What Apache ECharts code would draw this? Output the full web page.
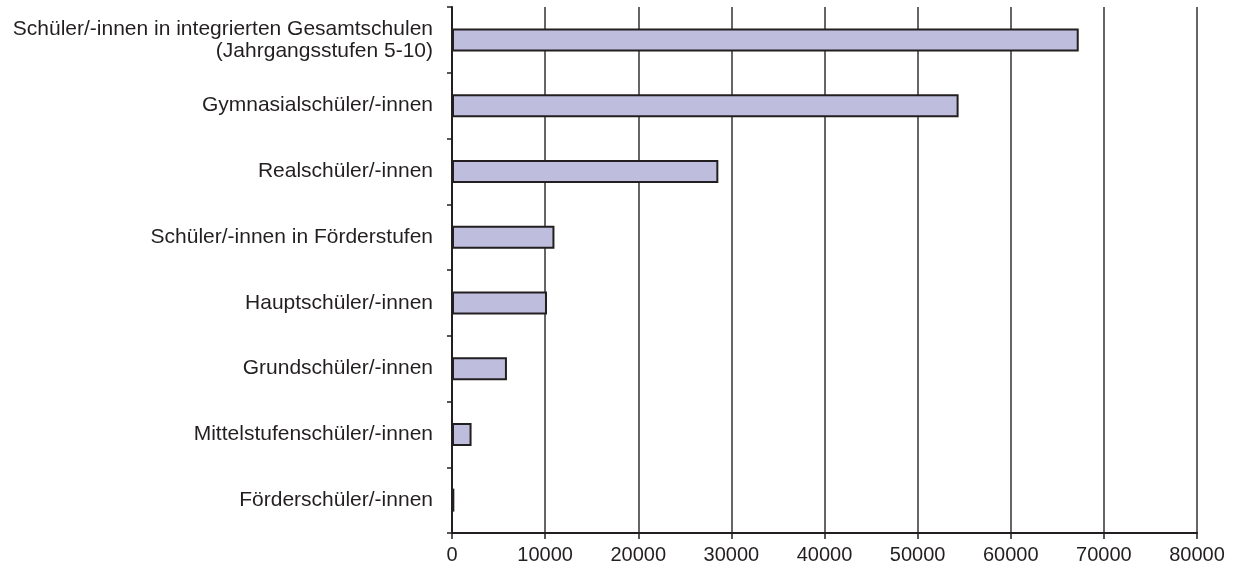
<!DOCTYPE html>
<html>
<head>
<meta charset="utf-8">
<script src="https://cdn.jsdelivr.net/npm/echarts@6/dist/echarts.min.js"></script>
<style>
html,body{margin:0;padding:0;background:#fff;}
#chart{width:1235px;height:574px;}
</style>
</head>
<body>
<div id="chart"></div>
<script>
const categories = [
  "Schüler/-innen in integrierten Gesamtschulen\n(Jahrgangsstufen 5-10)",
  "Gymnasialschüler/-innen",
  "Realschüler/-innen",
  "Schüler/-innen in Förderstufen",
  "Hauptschüler/-innen",
  "Grundschüler/-innen",
  "Mittelstufenschüler/-innen",
  "Förderschüler/-innen"
];
const values = [67300, 54400, 28600, 11000, 10200, 5900, 2100, 250];
const xTicks = [0, 80000, 10000];

const chart = echarts.init(document.getElementById('chart'), null, {renderer: 'canvas'});
chart.setOption({
  animation: false,
  backgroundColor: '#ffffff',
  grid: {left: 452, right: 38, top: 7, bottom: 41, containLabel: false},
  xAxis: {
    type: 'value',
    min: xTicks[0], max: xTicks[1], interval: xTicks[2],
    axisLine: {show: true, lineStyle: {color: '#231f20', width: 2}},
    axisTick: {show: true, length: 6, lineStyle: {color: '#231f20', width: 1.5}},
    axisLabel: {color: '#231f20', fontFamily: 'Liberation Sans, Arial, sans-serif', fontSize: 20, margin: 12,
      formatter: function (v) { return String(v); }},
    splitLine: {show: true, lineStyle: {color: '#333333', width: 1.5}}
  },
  yAxis: {
    type: 'category',
    data: categories,
    inverse: true,
    axisLine: {show: true, lineStyle: {color: '#231f20', width: 2}},
    axisTick: {show: true, length: 5, lineStyle: {color: '#231f20', width: 1.5}},
    axisLabel: {color: '#231f20', fontFamily: 'Liberation Sans, Arial, sans-serif', fontSize: 21, margin: 19, align: 'right', lineHeight: 22},
    splitLine: {show: false}
  },
  series: [{
    type: 'bar',
    data: values,
    barWidth: 23,
    itemStyle: {color: '#bfbddd', borderColor: '#231f20', borderWidth: 2}
  }]
});
</script>
</body>
</html>
